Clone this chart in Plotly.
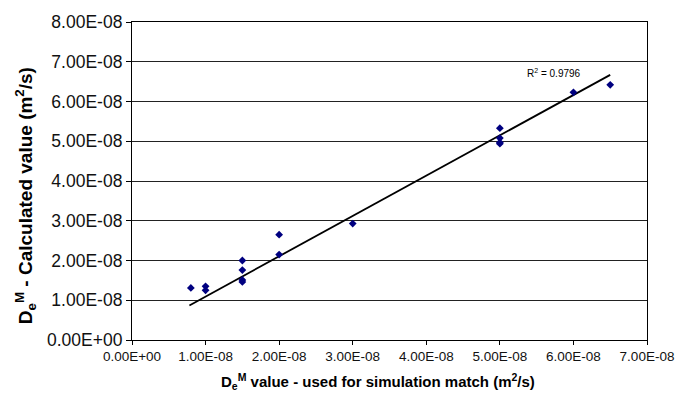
import plotly.graph_objects as go

# Data (units m^2/s)
sim_match = [0.8e-8, 1.0e-8, 1.0e-8, 1.5e-8, 1.5e-8, 1.5e-8, 1.5e-8, 2.0e-8, 2.0e-8,
             3.0e-8, 5.0e-8, 5.0e-8, 5.0e-8, 5.0e-8, 6.0e-8, 6.5e-8]
calculated = [1.31e-8, 1.35e-8, 1.25e-8, 2.00e-8, 1.76e-8, 1.51e-8, 1.46e-8, 2.65e-8, 2.15e-8,
              2.93e-8, 5.33e-8, 5.08e-8, 4.97e-8, 4.94e-8, 6.23e-8, 6.42e-8]
trend_x = [0.78e-8, 6.5e-8]
trend_y = [0.87e-8, 6.67e-8]
r2_text = "R<sup>2</sup> = 0.9796"

x_ticks = [0, 1e-8, 2e-8, 3e-8, 4e-8, 5e-8, 6e-8, 7e-8]
x_labels = ["0.00E+00", "1.00E-08", "2.00E-08", "3.00E-08", "4.00E-08", "5.00E-08", "6.00E-08", "7.00E-08"]
y_ticks = [0, 1e-8, 2e-8, 3e-8, 4e-8, 5e-8, 6e-8, 7e-8, 8e-8]
y_labels = ["0.00E+00", "1.00E-08", "2.00E-08", "3.00E-08", "4.00E-08", "5.00E-08", "6.00E-08", "7.00E-08", "8.00E-08"]

FONT = "Liberation Sans, Arial, sans-serif"

fig = go.Figure()
fig.add_trace(go.Scatter(x=trend_x, y=trend_y, mode="lines",
                         line=dict(color="black", width=1.8), showlegend=False,
                         hoverinfo="skip"))
fig.add_trace(go.Scatter(x=sim_match, y=calculated, mode="markers",
                         marker=dict(symbol="diamond", size=6, color="#000080"),
                         showlegend=False))

fig.update_layout(
    width=699, height=411,
    margin=dict(l=132, r=52, t=14, b=71),
    paper_bgcolor="white", plot_bgcolor="white",
    font=dict(family=FONT, color="black"),
    xaxis=dict(range=[0, 7e-8], tickvals=x_ticks, ticktext=x_labels,
               showgrid=False, zeroline=False, showline=True, linecolor="black",
               linewidth=1.2, mirror=True, ticks="outside", ticklen=4,
               tickcolor="black", tickfont=dict(size=13.5, family=FONT, color="#111")),
    yaxis=dict(range=[0, 8e-8], tickvals=y_ticks, ticktext=y_labels,
               showgrid=True, gridcolor="#222", gridwidth=1.3, zeroline=False,
               showline=True, linecolor="black", linewidth=1.2, mirror=True,
               ticks="outside", ticklen=5, tickcolor="black",
               tickfont=dict(size=17.5, family=FONT, color="#111")),
    annotations=[
        dict(text="<b>D<sub>e</sub><sup>M</sup> value - used for simulation match (m<sup>2</sup>/s)</b>",
             xref="paper", yref="paper", x=0.478, y=-0.132, xanchor="center", yanchor="middle",
             showarrow=False, font=dict(size=15, family=FONT, color="black")),
        dict(text="<b>D<sub>e</sub><sup>M</sup> - Calculated value (m<sup>2</sup>/s)</b>",
             xref="paper", yref="paper", x=-0.208, y=0.455, xanchor="center", yanchor="middle",
             textangle=-90, showarrow=False, font=dict(size=19, family=FONT, color="black")),
        dict(text=r2_text, xref="x", yref="y", x=5.74e-8, y=6.72e-8,
             xanchor="center", yanchor="middle", showarrow=False,
             font=dict(size=10, family=FONT, color="black")),
    ],
)

fig.write_html("out.html")
